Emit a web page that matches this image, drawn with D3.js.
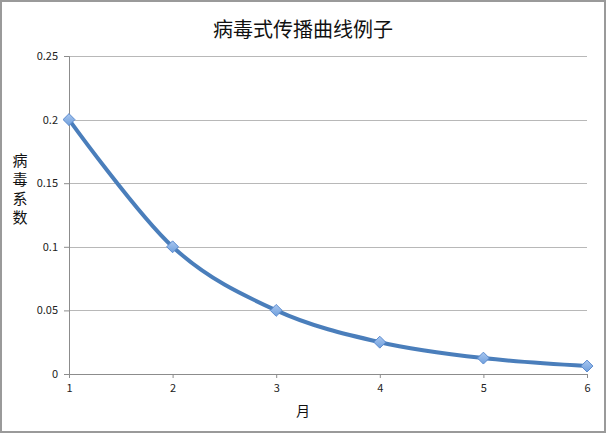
<!DOCTYPE html>
<html><head><meta charset="utf-8">
<script src="https://cdn.jsdelivr.net/npm/d3@7"></script>
<style>body{margin:0;background:#fff}svg{display:block}</style>
</head><body>
<script>
const months = [1, 2, 3, 4, 5, 6];
const values = [0.2, 0.1, 0.05, 0.025, 0.0125, 0.00625];
const yTicks = [0, 0.05, 0.1, 0.15, 0.2, 0.25];
const title = "病毒式传播曲线例子";
const xTitle = "月";
const yTitle = ["病", "毒", "系", "数"];

const W = 606, H = 433;
const svg = d3.select("body").append("svg").attr("width", W).attr("height", H);
const font = "'Noto Sans CJK SC', 'Open Sans', sans-serif";
svg.append("rect").attr("x", 1).attr("y", 1).attr("width", W - 2).attr("height", H - 2)
  .attr("fill", "#fff").attr("stroke", "#9a9a9a").attr("stroke-width", 2);

const x = d3.scaleLinear().domain([1, 6]).range([69, 587]);
const y = d3.scaleLinear().domain([0, 0.25]).range([374, 56]);

// gridlines
svg.append("g").selectAll("line").data(yTicks.filter(d => d > 0)).join("line")
  .attr("x1", x(1)).attr("x2", x(6)).attr("y1", d => Math.round(y(d)) + 0.5).attr("y2", d => Math.round(y(d)) + 0.5)
  .attr("stroke", "#b8b8b8").attr("stroke-width", 1);

// y axis
const ya = d3.axisLeft(y).tickValues(yTicks).tickSize(5).tickPadding(6).tickFormat(d => String(d));
const gy = svg.append("g").attr("transform", `translate(${x(1)},0)`).call(ya);
// x axis
const xa = d3.axisBottom(x).tickValues(months).tickSize(4).tickPadding(6).tickFormat(d3.format("d"));
const gx = svg.append("g").attr("transform", `translate(0,${y(0)})`).call(xa);
[gy, gx].forEach(g => {
  g.select(".domain").attr("stroke", "#8c8c8c");
  g.selectAll(".tick line").attr("stroke", "#8c8c8c");
  g.selectAll("text").attr("fill", "#222").style("font-family", font).style("font-size", "11px");
});

// title
svg.append("text").attr("x", 303).attr("y", 37).attr("text-anchor", "middle")
  .style("font-family", font).style("font-size", "20px").attr("fill", "#111").text(title);
svg.append("text").attr("x", 303).attr("y", 416).attr("text-anchor", "middle")
  .style("font-family", font).style("font-size", "14px").attr("fill", "#111").text(xTitle);
svg.append("g").selectAll("text").data(yTitle).join("text")
  .attr("x", 20).attr("y", (d, i) => 166 + i * 19).attr("text-anchor", "middle")
  .style("font-family", font).style("font-size", "15px").attr("fill", "#111").text(d => d);

// line
const line = d3.line().x((d, i) => x(months[i])).y(d => y(d)).curve(d3.curveCardinal.tension(0));
svg.append("path").datum(values).attr("d", line).attr("fill", "none")
  .attr("stroke", "#4a7ebb").attr("stroke-width", 4).attr("stroke-linejoin", "round");

// markers
const defs = svg.append("defs");
const grad = defs.append("linearGradient").attr("id", "mk").attr("x1", 0).attr("y1", 0).attr("x2", 0).attr("y2", 1);
grad.append("stop").attr("offset", "0%").attr("stop-color", "#a9c7f0");
grad.append("stop").attr("offset", "100%").attr("stop-color", "#6f9fdc");
const sym = d3.symbol().type(d3.symbolDiamond2).size(90);
svg.append("g").selectAll("path").data(values).join("path")
  .attr("transform", (d, i) => `translate(${x(months[i])},${y(d)})`)
  .attr("d", sym).attr("fill", "url(#mk)").attr("stroke", "#5b8bcf").attr("stroke-width", 1);
</script>
</body></html>
